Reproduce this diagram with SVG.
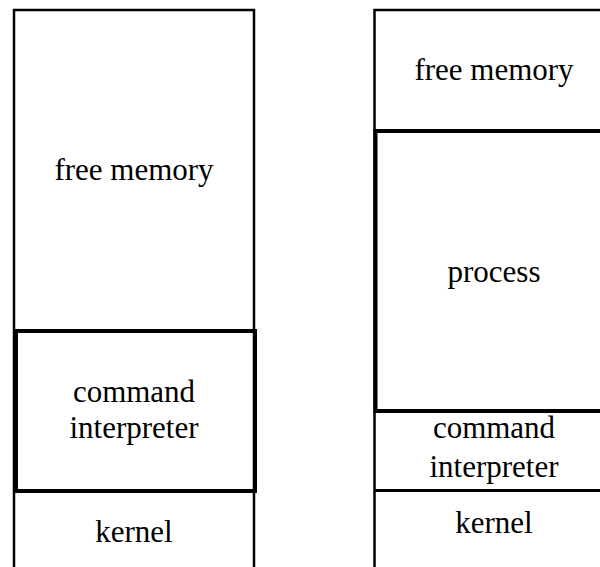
<svg xmlns="http://www.w3.org/2000/svg" width="600" height="567" viewBox="0 0 600 567">
  <style>
    .frame { fill: none; stroke: #000; stroke-width: 2.5; }
    .thick { fill: none; stroke: #000; stroke-width: 4; }
    .rule { stroke: #000; stroke-width: 3; }
    .lbl { font-family: "Liberation Serif", "DejaVu Serif", serif; font-size: 31px; fill: #000; text-anchor: middle; }
  </style>
  <rect width="600" height="567" fill="#fff"/>

  <!-- Left memory map: free memory over command interpreter over kernel -->
  <g id="left-map">
    <path class="frame" d="M14,570 V10 H254 V570"/>
    <g id="left-free-memory">
      <text class="lbl" x="134" y="180">free memory</text>
    </g>
    <g id="left-command-interpreter">
      <rect class="thick" x="16" y="331" width="239" height="160"/>
      <text class="lbl" x="134" y="402">command</text>
      <text class="lbl" x="134" y="438">interpreter</text>
    </g>
    <g id="left-kernel">
      <text class="lbl" x="134" y="542">kernel</text>
    </g>
  </g>

  <!-- Right memory map: free memory, process, command interpreter, kernel -->
  <g id="right-map">
    <path class="frame" d="M374.5,570 V10 H620"/>
    <g id="right-free-memory">
      <text class="lbl" x="494" y="80">free memory</text>
    </g>
    <g id="right-process">
      <rect class="thick" x="375.5" y="131" width="250" height="280"/>
      <text class="lbl" x="494" y="282">process</text>
    </g>
    <g id="right-command-interpreter">
      <line class="rule" x1="374" y1="490.5" x2="620" y2="490.5"/>
      <text class="lbl" x="494" y="438">command</text>
      <text class="lbl" x="494" y="477">interpreter</text>
    </g>
    <g id="right-kernel">
      <text class="lbl" x="494" y="533">kernel</text>
    </g>
  </g>

  <g id="connectors"/>
</svg>
